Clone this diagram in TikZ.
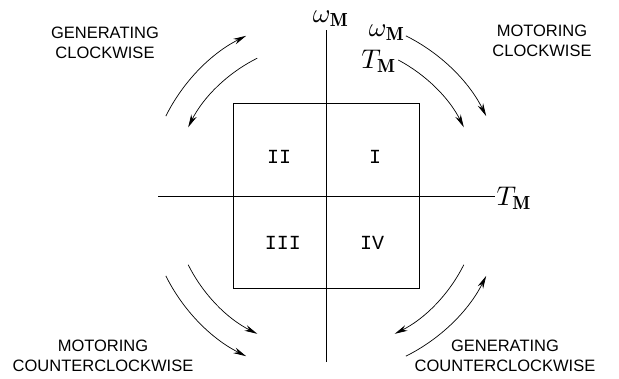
\documentclass[tikz,border=0pt]{standalone}
\usepackage{fontspec}
\setsansfont{Liberation Sans}
\setmonofont{Liberation Mono}
\usetikzlibrary{arrows.meta}
\begin{document}
\begin{tikzpicture}[x=1pt,y=1pt,
  line/.style={line width=0.8pt},
  arr/.style={line width=0.7pt,-{Stealth[length=13pt,width=6pt]}},
  lbl/.style={font=\sffamily\fontsize{16.5}{20}\selectfont,align=center,inner sep=0pt},
  quad/.style={font=\ttfamily\fontsize{20}{20}\selectfont,inner sep=0pt},
  mlab/.style={scale=2.7,inner sep=0pt}]
\useasboundingbox (0,0) rectangle (619,378);
\coordinate (c) at (326,182);
% box
\draw[line] (233,90) rectangle (419,275);
% axes
\coordinate (xl) at (158,182);
\coordinate (xr) at (495,182);
\coordinate (yb) at (326,16);
\coordinate (yt) at (326,348);
\draw[line] (xl) -- (xr);
\draw[line] (yb) -- (yt);
\node[mlab,anchor=west] (tm) at (496,180) {$T_{\mathbf{M}}$};
\node[mlab] (wm) at (331,359) {$\omega_{\mathbf{M}}$};
% quadrant labels
\node[quad] (q2) at (279,221) {II};
\node[quad] (q1) at (375,221) {I};
\node[quad] (q3) at (283,135) {III};
\node[quad] (q4) at (372,135) {IV};
% arcs
\def\ro{179}\def\ri{154}
% top-left
\draw[arr] (c) ++(153.5:\ro) arc[start angle=153.5,end angle=116.5,radius=\ro];
\draw[arr] (c) ++(116.5:\ri) arc[start angle=116.5,end angle=153.5,radius=\ri];
% top-right
\draw[arr] (c) ++(63.5:\ro) arc[start angle=63.5,end angle=26.5,radius=\ro];
\draw[arr] (c) ++(62:\ri) arc[start angle=62,end angle=26.5,radius=\ri];
% bottom-left
\draw[arr] (c) ++(206.5:\ro) arc[start angle=206.5,end angle=243.5,radius=\ro];
\draw[arr] (c) ++(206.5:\ri) arc[start angle=206.5,end angle=243.5,radius=\ri];
% bottom-right
\draw[arr] (c) ++(-26.5:\ri) arc[start angle=-26.5,end angle=-63.5,radius=\ri];
\draw[arr] (c) ++(-63.5:\ro) arc[start angle=-63.5,end angle=-26.5,radius=\ro];
% arc labels
\node[mlab] (wa) at (387,345) {$\omega_{\mathbf{M}}$};
\node[mlab] (ta) at (379,317) {$T_{\mathbf{M}}$};
% texts
\node[lbl] (gc) at (105,335) {GENERATING\\CLOCKWISE};
\node[lbl] (mc) at (542,337) {MOTORING\\CLOCKWISE};
\node[lbl] (mcc) at (103,22) {MOTORING\\COUNTERCLOCKWISE};
\node[lbl] (gcc) at (505,22) {GENERATING\\COUNTERCLOCKWISE};
\end{tikzpicture}
\end{document}
